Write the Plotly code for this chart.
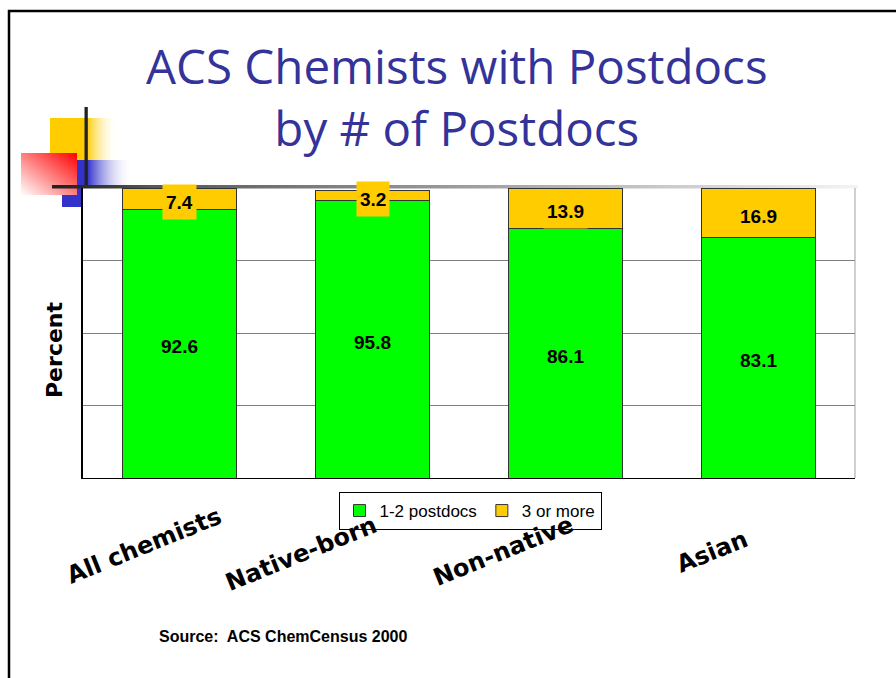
import base64
import plotly.graph_objects as go

# ---- data ----
categories = ["All chemists", "Native-born", "Non-native", "Asian"]
one_two = [92.6, 95.8, 86.1, 83.1]
three_plus = [7.4, 3.2, 13.9, 16.9]
series_names = ["1-2 postdocs", "3 or more"]
y_ticks = [0, 25, 50, 75, 100]
title_text = "ACS Chemists with Postdocs<br>by # of Postdocs"
source_text = "Source:  ACS ChemCensus 2000"

# ---- layout geometry (pixels) ----
W, H = 896, 678
L, R, T, B = 83, 41, 188, 200
PW, PH = W - L - R, H - T - B

GREEN = "#00FF00"
GOLD = "#FFCC00"
TITLE_BLUE = "#333399"


def px_x(p):
    return (p - L) / PW


def px_y(p):
    return (H - B - p) / PH


fig = go.Figure()
fig.add_bar(x=categories, y=one_two, name=series_names[0],
            marker=dict(color=GREEN, line=dict(color="#333333", width=1)))
fig.add_bar(x=categories, y=three_plus, name=series_names[1],
            marker=dict(color=GOLD, line=dict(color="#333333", width=1)))

annotations = []
label_font = dict(family="Liberation Sans, Arial", size=19, color="black", weight="bold")
for c, g, yv in zip(categories, one_two, three_plus):
    annotations.append(dict(x=c, y=g / 2, xref="x", yref="y", text=f"{g:.1f}",
                            showarrow=False, font=label_font, yshift=-3))
    annotations.append(dict(x=c, y=g + yv / 2, xref="x", yref="y", text=f"{yv:.1f}",
                            showarrow=False, font=label_font, yshift=-3,
                            bgcolor=GOLD, borderpad=3, height=28))

# rotated category labels
cat_shift = [-36, -72, -62, -47]
cat_center_px = [546, 554, 551, 552]
for c, dx, cy in zip(categories, cat_shift, cat_center_px):
    annotations.append(dict(x=c, xref="x", y=px_y(cy), yref="paper", text=c,
                            showarrow=False, textangle=-22, xshift=dx,
                            xanchor="center", yanchor="middle",
                            font=dict(family="DejaVu Sans", size=24, color="black", weight="bold")))

annotations.append(dict(x=px_x(54), y=px_y(350), xref="paper", yref="paper", text="Percent",
                        showarrow=False, textangle=-90, xanchor="center", yanchor="middle",
                        font=dict(family="DejaVu Sans", size=22, color="black", weight="bold")))

annotations.append(dict(x=px_x(283), y=px_y(636), xref="paper", yref="paper",
                        text=source_text, showarrow=False,
                        xanchor="center", yanchor="middle",
                        font=dict(family="Liberation Sans, Arial", size=16, color="black", weight="bold")))

annotations.append(dict(x=px_x(457), y=px_y(96.5), xref="paper", yref="paper",
                        text=title_text, showarrow=False, xanchor="center", yanchor="middle",
                        align="center",
                        font=dict(family="Open Sans", size=47.5, color=TITLE_BLUE)))

# decorative slide graphics
svg = f"""<svg xmlns="http://www.w3.org/2000/svg" width="{W}" height="{H}" viewBox="0 0 {W} {H}">
<defs>
<linearGradient id="gy" x1="0" y1="0" x2="1" y2="0"><stop offset="0" stop-color="#FFCC00"/><stop offset="0.54" stop-color="#FFCC00"/><stop offset="1" stop-color="#FFFFFF" stop-opacity="0"/></linearGradient>
<linearGradient id="gb" x1="0" y1="0" x2="1" y2="0"><stop offset="0" stop-color="#3333CC"/><stop offset="0.36" stop-color="#3333CC"/><stop offset="1" stop-color="#FFFFFF" stop-opacity="0"/></linearGradient>
<linearGradient id="gr" x1="1" y1="0" x2="0" y2="1"><stop offset="0" stop-color="#FF0000"/><stop offset="1" stop-color="#FFFFFF"/></linearGradient>
<linearGradient id="gl" x1="0" y1="0" x2="1" y2="0"><stop offset="0" stop-color="#222222"/><stop offset="0.04" stop-color="#2A2A2A"/><stop offset="0.12" stop-color="#555555"/><stop offset="0.3" stop-color="#777777"/><stop offset="0.68" stop-color="#BBBBBB"/><stop offset="1" stop-color="#F4F4F4"/></linearGradient>
</defs>
<rect x="9" y="11" width="{W}" height="{H}" fill="none" stroke="#000000" stroke-width="2.5"/>
<rect x="50" y="118" width="68" height="42" fill="url(#gy)"/>
<rect x="62" y="160" width="71" height="26" fill="url(#gb)"/>
<rect x="62" y="186" width="21" height="21" fill="#3333CC"/>
<rect x="21" y="153" width="56" height="42" fill="url(#gr)"/>
<rect x="84.5" y="107" width="3.3" height="79" fill="#222222"/>
<rect x="52" y="185" width="806" height="3.5" fill="url(#gl)"/>
</svg>"""
src = "data:image/svg+xml;base64," + base64.b64encode(svg.encode()).decode()

fig.update_layout(
    width=W, height=H,
    margin=dict(l=L, r=R, t=T, b=B, pad=0),
    paper_bgcolor="white", plot_bgcolor="white",
    barmode="stack", bargap=0.41,
    font=dict(family="Liberation Sans, Arial", color="black"),
    xaxis=dict(range=[-0.5, 3.5], showticklabels=False, showline=True,
               linecolor="black", linewidth=1, ticks="", showgrid=False),
    yaxis=dict(range=[0, 100], tickvals=y_ticks, showticklabels=False, ticks="",
               showgrid=True, gridcolor="#808080", gridwidth=1, zeroline=False,
               showline=True, linecolor="black", linewidth=1.5),
    legend=dict(orientation="h", x=px_x(470), xanchor="center", y=px_y(492), yanchor="top",
                bordercolor="black", borderwidth=1, bgcolor="white",
                font=dict(family="Liberation Sans, Arial", size=17, color="black"),
                traceorder="normal"),
    annotations=annotations,
    shapes=[dict(type="line", xref="paper", yref="paper", x0=1, x1=1, y0=0, y1=1,
                 line=dict(color="#A0A0A0", width=1))],
    images=[dict(source=src, xref="paper", yref="paper", x=px_x(0), y=px_y(0),
                 sizex=W / PW, sizey=H / PH, xanchor="left", yanchor="top",
                 sizing="stretch", layer="below")],
    showlegend=True,
)

fig.write_html("out.html", config={"displayModeBar": False},
               post_script="document.body.style.margin='0px';")
